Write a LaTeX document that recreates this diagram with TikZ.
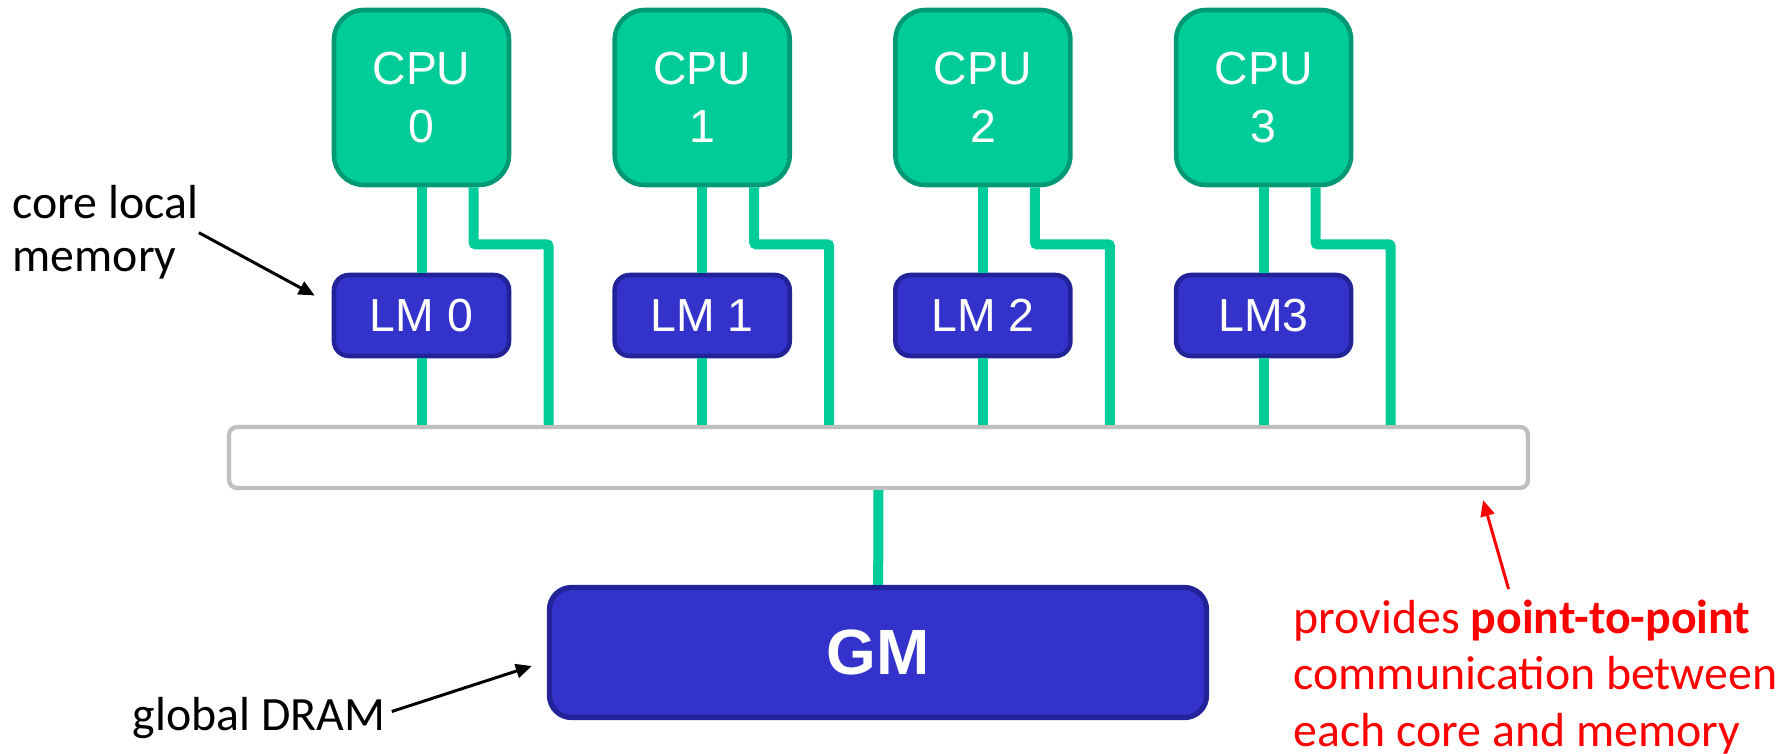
\documentclass[tikz,border=0pt]{standalone}
\usepackage{fontspec}
\setmainfont{Carlito}
\newfontfamily\arialfont{Liberation Sans}
\usepackage{tikz}
\usetikzlibrary{arrows.meta}
\definecolor{cpugreen}{HTML}{00CC99}
\definecolor{cpuedge}{HTML}{009973}
\definecolor{lmblue}{HTML}{3333CC}
\definecolor{lmedge}{HTML}{222299}
\definecolor{busgray}{HTML}{BFBFBF}
\tikzset{node distance=2.5cm, every edge/.style={draw,
		cpugreen,line width=1mm},link/.style={draw,cpugreen,line width=1mm,rounded corners=0.6pt}}
\tikzstyle{cpu}=[rectangle,rounded corners=3mm,draw=cpuedge,fill=cpugreen,line width=1.3pt,minimum width=17.5mm,minimum height=17.5mm,text=white,align=center,font=\arialfont\fontsize{13.2}{16.5}\selectfont]
\tikzstyle{lm}=[rectangle,rounded corners=1.5mm,draw=lmedge,fill=lmblue,line width=1.3pt,minimum width=17.5mm,minimum height=8.1mm,text=white,font=\arialfont\fontsize{13.2}{16.5}\selectfont]
\tikzstyle{gmem}=[rectangle,rounded corners=2.2mm,draw=lmedge,fill=lmblue,line width=1.5pt,minimum width=65.7mm,minimum height=13mm,text=white,font=\arialfont\bfseries\fontsize{18.2}{22}\selectfont]
\tikzstyle{bus}=[rectangle,rounded corners=0.8mm,draw=busgray,fill=white,line width=1.2pt,minimum width=129.9mm,minimum height=6.1mm]
\tikzstyle{note}=[inner sep=0pt,align=left,font=\fontsize{13.6}{15.1}\selectfont]
\tikzstyle{pointer}=[draw,line width=0.85pt,-{Triangle[length=1.6mm,width=1.4mm]}]

\begin{document}
\begin{tikzpicture}
	\useasboundingbox (0,0) rectangle (17.88,-7.54);
	\node at (4.215,-0.975) [cpu] (cpu0) {CPU\\0};
	\node at (7.022,-0.975) [cpu] (cpu1) {CPU\\1};
	\node at (9.829,-0.975) [cpu] (cpu2) {CPU\\2};
	\node at (12.636,-0.975) [cpu] (cpu3) {CPU\\3};
	\node at (4.215,-3.155) [lm] (lm0) {LM 0};
	\node at (7.022,-3.155) [lm] (lm1) {LM 1};
	\node at (9.829,-3.155) [lm] (lm2) {LM 2};
	\node at (12.636,-3.155) [lm] (lm3) {LM3};
	\node at (8.785,-4.575) [bus] (bus) {};
	\node at (8.78,-6.525) [gmem] (gm) {GM};
	\draw (cpu0) edge (lm0);
	\draw (cpu1) edge (lm1);
	\draw (cpu2) edge (lm2);
	\draw (cpu3) edge (lm3);
	\draw (lm0) edge (lm0 |- bus.north);
	\draw (lm1) edge (lm1 |- bus.north);
	\draw (lm2) edge (lm2 |- bus.north);
	\draw (lm3) edge (lm3 |- bus.north);
	\draw[link] ([xshift=5.2mm]cpu0.south) -- ++(0,-0.57) -| ([xshift=12.7mm]cpu0.south |- bus.north);
	\draw[link] ([xshift=5.2mm]cpu1.south) -- ++(0,-0.57) -| ([xshift=12.7mm]cpu1.south |- bus.north);
	\draw[link] ([xshift=5.2mm]cpu2.south) -- ++(0,-0.57) -| ([xshift=12.7mm]cpu2.south |- bus.north);
	\draw[link] ([xshift=5.2mm]cpu3.south) -- ++(0,-0.57) -| ([xshift=12.7mm]cpu3.south |- bus.north);
	\draw (bus) edge (gm);
	\node at (0.12,-1.85) [note,anchor=north west] (cl) {core local\\memory};
	\node at (1.32,-7.30) [note,anchor=base west] (dram) {global DRAM};
	\node at (12.93,-5.99) [note,anchor=north west,text=red,font=\fontsize{13.6}{16.1}\selectfont] (pp) {provides \textbf{point-to-point}\\communication between\\each core and memory};
	\draw[pointer] (cl.east) -- ([xshift=-1.7mm,yshift=2mm]lm0.west);
	\draw[pointer] ([xshift=0.6mm,yshift=0.6mm]dram.east) -- ([xshift=-1.5mm,yshift=-1.35mm]gm.west);
	\draw[pointer,red] ([xshift=-2.7mm,yshift=1mm]pp.north) -- ([xshift=-4.7mm,yshift=-1mm]bus.south east);
\end{tikzpicture}
\end{document}
